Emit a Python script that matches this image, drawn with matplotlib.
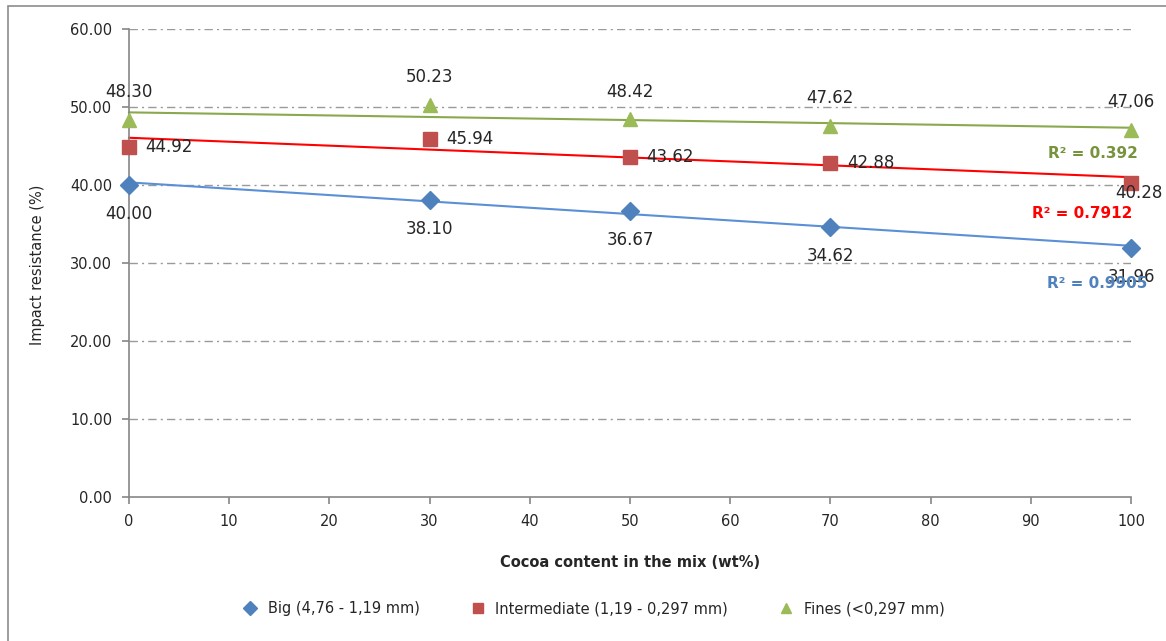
import numpy as np
import matplotlib
matplotlib.use("Agg")
import matplotlib.pyplot as plt
from matplotlib.lines import Line2D
from matplotlib.patches import Rectangle

cocoa = [0, 30, 50, 70, 100]
big = [40.00, 38.10, 36.67, 34.62, 31.96]
intermediate = [44.92, 45.94, 43.62, 42.88, 40.28]
fines = [48.30, 50.23, 48.42, 47.62, 47.06]
series_names = ["Big (4,76 - 1,19 mm)", "Intermediate (1,19 - 0,297 mm)", "Fines (<0,297 mm)"]
r2_labels = ["R² = 0.9905", "R² = 0.7912", "R² = 0.392"]
yticks = [0, 10, 20, 30, 40, 50, 60]
xticks = [0, 10, 20, 30, 40, 50, 60, 70, 80, 90, 100]

plt.rcParams['font.family'] = ['DejaVu Sans']

fig = plt.figure(figsize=(11.66, 6.41), dpi=100)
ax = fig.add_axes([129/1166, 1-497/641, (1131-129)/1166, (497-29)/641])

# border
fig.patches.append(Rectangle((8/1166, -0.2), 1.2, 1.2 - 6/641, transform=fig.transFigure,
                             fill=False, edgecolor='#8c8c8c', lw=1.2))

ax.set_xlim(0, 100)
ax.set_ylim(0, 60)
ax.set_xticks(xticks)
ax.set_yticks(yticks)
ax.set_yticklabels([f"{v:.2f}" for v in yticks])
for s in ['top', 'right']:
    ax.spines[s].set_visible(False)
for s in ['left', 'bottom']:
    ax.spines[s].set_color('#868686')
    ax.spines[s].set_linewidth(1.2)
ax.tick_params(axis='both', colors='#868686', labelcolor='#262626', labelsize=10.5, length=5, width=1.2)
ax.tick_params(axis='y', pad=7)
ax.tick_params(axis='x', pad=7)
for v in yticks[1:]:
    ax.axhline(v, color='#9a9a9a', lw=1.0, linestyle=(0, (6, 3, 1.5, 3)), zorder=0)

colors_mk = ['#4F81BD', '#C0504D', '#9BBB59']
colors_tr = ['#5B8FD6', '#FF0000', '#8AA84D']
r2_colors = ['#4F81BD', '#FF0000', '#77933C']
markers = ['D', 's', '^']
msizes = [9, 10, 10]
data = [big, intermediate, fines]

xx = np.array([0, 100])
for i, ys in enumerate(data):
    p = np.polyfit(cocoa, ys, 1)
    ax.plot(xx, np.polyval(p, xx), color=colors_tr[i], lw=1.5, zorder=2, clip_on=False)
    ax.plot(cocoa, ys, linestyle='none', marker=markers[i], markersize=msizes[i],
            color=colors_mk[i], zorder=3, clip_on=False)

for x, y in zip(cocoa, big):
    ax.annotate(f"{y:.2f}", (x, y), xytext=(0, -21), textcoords='offset points',
                ha='center', va='center', fontsize=12, color='#262626', zorder=4)
for j, (x, y) in enumerate(zip(cocoa, intermediate)):
    if j == len(cocoa) - 1:
        ax.annotate(f"{y:.2f}", (x, y), xytext=(6, -7.5), textcoords='offset points',
                    ha='center', va='center', fontsize=12, color='#262626', zorder=4)
    else:
        ax.annotate(f"{y:.2f}", (x, y), xytext=(12, 0), textcoords='offset points',
                    ha='left', va='center', fontsize=12, color='#262626', zorder=4)
for x, y in zip(cocoa, fines):
    ax.annotate(f"{y:.2f}", (x, y), xytext=(0, 20), textcoords='offset points',
                ha='center', va='center', fontsize=12, color='#262626', zorder=4)

r2_pos = [(96.6, 27.4), (95.1, 36.4), (96.2, 44.0)]
for i in range(3):
    ax.text(r2_pos[i][0], r2_pos[i][1], r2_labels[i], color=r2_colors[i], fontsize=11,
            fontweight='bold', ha='center', va='center', clip_on=False, zorder=5)

ax.set_xlabel("Cocoa content in the mix (wt%)", fontsize=10.5, fontweight='bold', color='#262626')
ax.set_ylabel("Impact resistance (%)", fontsize=10.5, color='#262626')
ax.xaxis.set_label_coords(0.5, -0.124)
ax.yaxis.set_label_coords(-0.084, 0.496)

handles = [Line2D([], [], linestyle='none', marker=markers[i], markersize=msizes[i]*0.75,
                  color=colors_mk[i]) for i in range(3)]
fig.legend(handles, series_names, loc='center', bbox_to_anchor=(590/1166, 1-609/641), ncol=3,
           frameon=False, fontsize=10.5, handletextpad=0.2, columnspacing=3.0,
           labelcolor='#262626')

fig.savefig("out.png", dpi=100)
